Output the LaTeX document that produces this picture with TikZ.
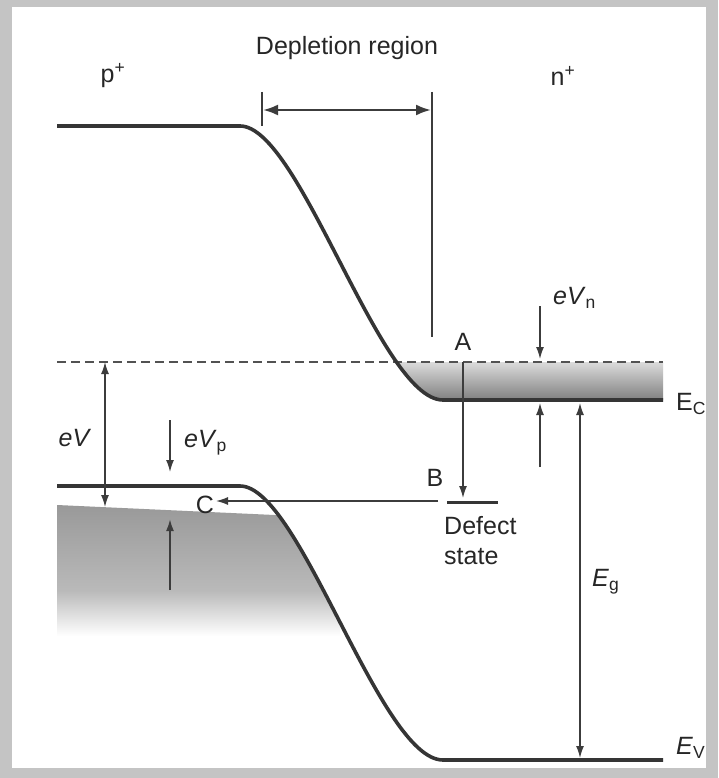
\documentclass[tikz,border=0pt]{standalone}
\usepackage{fontspec}
\setmainfont{Liberation Sans}
\usetikzlibrary{arrows.meta}
\definecolor{framecol}{HTML}{C4C4C4}
\definecolor{bandcol}{HTML}{353535}
\definecolor{linecol}{HTML}{3C3C3C}
\definecolor{textcol}{HTML}{262626}
\begin{document}
\begin{tikzpicture}[x=1pt,y=-1pt,
  band/.style={line width=3.6pt, draw=bandcol},
  thinline/.style={line width=1.4pt, draw=linecol},
  tipend/.style={-{Latex[length=12pt,width=8pt]}},
  tipboth/.style={{Latex[length=12pt,width=8pt]}-{Latex[length=12pt,width=8pt]}},
  lbl/.style={font=\fontsize{25}{29}\selectfont, text=textcol, inner sep=0pt},
  ]
% frame
\fill[framecol] (0,0) rectangle (718,778);
\fill[white] (12,7) rectangle (706,768);
\useasboundingbox (0,0) rectangle (718,778);

% coordinates
\coordinate (cbL) at (57,126);
\coordinate (cbK) at (240,126);
\coordinate (cbB) at (443,400);
\coordinate (cbR) at (663,400);
\coordinate (vbL) at (57,486);
\coordinate (vbK) at (240,486);
\coordinate (vbB) at (443,760);
\coordinate (vbR) at (663,760);
\coordinate (fnL) at (57,362);
\coordinate (fnR) at (663,362);

% n-side shading
\begin{scope}
  \clip (240,126) .. controls (300,126) and (380,400) .. (443,400) -- (663,400) -- (663,126) -- cycle;
  \shade[top color=black!14, bottom color=black!50] (370,362) rectangle (663,400);
\end{scope}
% p-side shading
\begin{scope}
  \clip (57,486) -- (240,486) .. controls (300,486) and (380,760) .. (443,760) -- (57,760) -- cycle;
  \shade[top color=black!40, bottom color=black!27] (57,505) -- (340,518) -- (340,592) -- (57,592) -- cycle;
  \shade[top color=black!27, bottom color=white] (57,591) rectangle (340,636);
\end{scope}

% quasi Fermi level (dashed)
\draw[line width=2pt, draw=black!68, dash pattern=on 9pt off 5pt] (fnL) -- (fnR);

% bands
\draw[band] (cbL) -- (cbK) .. controls (300,126) and (380,400) .. (cbB) -- (cbR);
\draw[band] (vbL) -- (vbK) .. controls (300,486) and (380,760) .. (vbB) -- (vbR);

% depletion region
\coordinate (dl1) at (262,92);
\coordinate (dl2) at (262,126);
\coordinate (dr1) at (432,92);
\coordinate (dr2) at (432,337);
\coordinate (da1) at (263,110);
\coordinate (da2) at (431,110);
\draw[thinline] (dl1) -- (dl2);
\draw[thinline] (dr1) -- (dr2);
\draw[line width=2.4pt, draw=linecol, {Latex[length=15pt,width=11pt]}-{Latex[length=15pt,width=11pt]}] (da1) -- (da2);

% eV
\coordinate (ev1) at (105,362);
\coordinate (ev2) at (105,507);
\draw[thinline, tipboth] (ev1) -- (ev2);
% eVp
\coordinate (evp1) at (170,420);
\coordinate (evp2) at (170,472);
\draw[thinline, tipend] (evp1) -- (evp2);
\coordinate (up1) at (170,590);
\coordinate (up2) at (170,519);
\draw[line width=2pt, draw=linecol, tipend] (up1) -- (up2);
% eVn
\coordinate (evn1) at (540,306);
\coordinate (evn2) at (540,359);
\draw[thinline, tipend] (evn1) -- (evn2);
\coordinate (un1) at (540,467);
\coordinate (un2) at (540,403);
\draw[thinline, tipend] (un1) -- (un2);
% Eg
\coordinate (eg1) at (580,403);
\coordinate (eg2) at (580,758);
\draw[thinline, tipboth] (eg1) -- (eg2);
% A -> B
\coordinate (a1) at (463,362);
\coordinate (a2) at (463,498);
\draw[thinline, tipend] (a1) -- (a2);
% defect state
\coordinate (ds1) at (447,502);
\coordinate (ds2) at (498,502);
\draw[line width=3pt, draw=bandcol] (ds1) -- (ds2);
% B -> C
\coordinate (c1) at (438,501);
\coordinate (c2) at (216,501);
\draw[thinline, tipend] (c1) -- (c2);

% labels
\node[lbl] (tdep) at (347,48) {Depletion region};
\node[lbl] (tp) at (113,76) {p\textsuperscript{+}};
\node[lbl] (tn) at (563,76) {n\textsuperscript{+}};
\node[lbl] (tA) at (463,342) {A};
\node[lbl] (tB) at (435,478) {B};
\node[lbl] (tC) at (205,505) {C};
\node[lbl] (teV) at (75,438) {\textit{eV}};
\node[lbl, anchor=west] (teVp) at (184,443) {\textit{eV}\textsubscript{p}};
\node[lbl, anchor=west] (teVn) at (553,298) {\textit{eV}\textsubscript{n}};
\node[lbl, anchor=west] (tEC) at (676,404) {E\textsubscript{C}};
\node[lbl, anchor=west] (tEV) at (676,748) {\textit{E}\textsubscript{V}};
\node[lbl, anchor=west] (tEg) at (592,582) {\textit{E}\textsubscript{g}};
\node[lbl, anchor=north west, align=left] (tds) at (444,516) {Defect\\[1pt]state};
\end{tikzpicture}
\end{document}
